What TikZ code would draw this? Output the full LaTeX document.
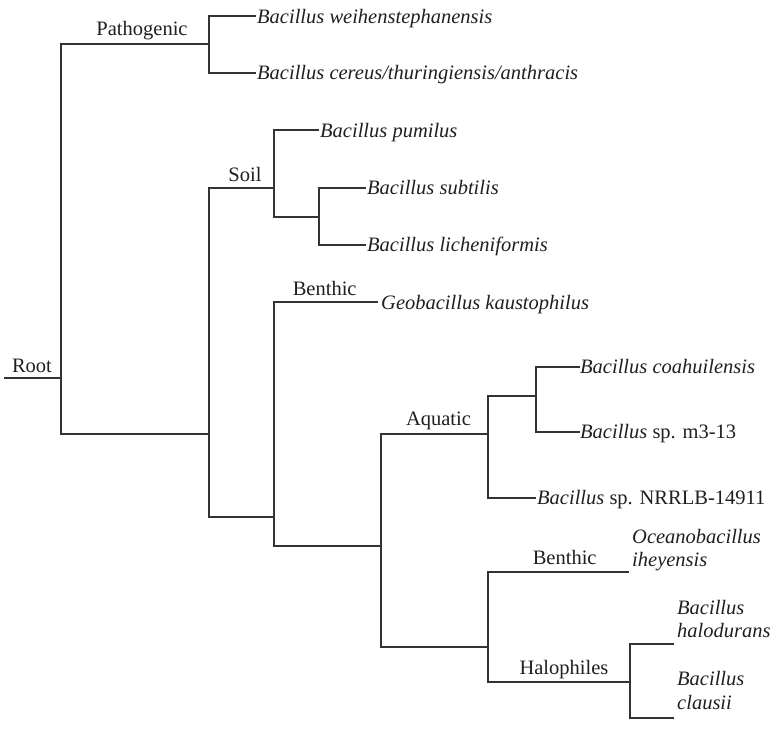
\documentclass[tikz,border=0pt]{standalone}
\usepackage{fontspec}
\setmainfont{Liberation Serif}
\begin{document}
\begin{tikzpicture}[x=1pt,y=-1pt,
  branch/.style={draw=black!80, line width=1.4pt, line cap=rect},
  leaf/.style={anchor=base west, inner sep=0pt, font=\fontsize{20.5}{23.3}\selectfont\itshape, text=black!88, align=left},
  clade/.style={anchor=base, inner sep=0pt, font=\fontsize{20.5}{23.3}\selectfont, text=black!88}]
\useasboundingbox (0,0) rectangle (772,735);
% internal nodes
\coordinate (r0) at (5,378);
\coordinate (nR) at (61,378);
\coordinate (nP) at (209,44);
\coordinate (nA) at (209,434);
\coordinate (nSoil) at (274,188);
\coordinate (nSub) at (319,217);
\coordinate (nB) at (274,517);
\coordinate (nC) at (381,546);
\coordinate (nAq) at (488,434);
\coordinate (nCo) at (536,396);
\coordinate (nD) at (488,647);
\coordinate (nH) at (630,682);
% leaf ends
\coordinate (e1) at (255,16);
\coordinate (e2) at (255,73);
\coordinate (e3) at (318,130);
\coordinate (e4) at (365,188);
\coordinate (e5) at (365,245);
\coordinate (e6) at (377,302);
\coordinate (e7) at (579,367);
\coordinate (e8) at (579,432);
\coordinate (e9) at (535,498);
\coordinate (e10) at (628,572);
\coordinate (e11) at (673,644);
\coordinate (e12) at (673,718);
% leaves
\node[leaf] (l1) at (257,23.3) {Bacillus weihenstephanensis};
\node[leaf] (l2) at (257,79.3) {Bacillus cereus/thuringiensis/anthracis};
\node[leaf] (l3) at (320,137.7) {Bacillus pumilus};
\node[leaf] (l4) at (367,195) {Bacillus subtilis};
\node[leaf] (l5) at (367,252) {Bacillus licheniformis};
\node[leaf] (l6) at (381,309.3) {Geobacillus kaustophilus};
\node[leaf] (l7) at (580,373.3) {Bacillus coahuilensis};
\node[leaf] (l8) at (580,438.3) {Bacillus \upshape sp. m3-13};
\node[leaf] (l9) at (537,505) {Bacillus \upshape sp. NRRLB-14911};
\node[leaf] (l10) at (632,566.7) {Oceanobacillus\\iheyensis};
\node[leaf] (l11) at (677,637.3) {Bacillus\\halodurans};
\node[leaf] (l12) at (677,709) {Bacillus\\clausii};
% clade labels
\node[clade] (tRoot) at (32,372.7) {Root};
\node[clade] (tPat) at (142,36) {Pathogenic};
\node[clade] (tSoil) at (245,181.7) {Soil};
\node[clade] (tBen) at (324.7,295.7) {Benthic};
\node[clade] (tAq) at (438.5,425.7) {Aquatic};
\node[clade] (tBen2) at (564.7,564) {Benthic};
\node[clade] (tHal) at (564,674) {Halophiles};
% branches
\draw[branch] (r0) -- (nR);
\draw[branch] (nR) |- (nP);
\draw[branch] (nR) |- (nA);
\draw[branch] (nP) |- (e1);
\draw[branch] (nP) |- (e2);
\draw[branch] (nA) |- (nSoil);
\draw[branch] (nA) |- (nB);
\draw[branch] (nSoil) |- (e3);
\draw[branch] (nSoil) |- (nSub);
\draw[branch] (nSub) |- (e4);
\draw[branch] (nSub) |- (e5);
\draw[branch] (nB) |- (e6);
\draw[branch] (nB) |- (nC);
\draw[branch] (nC) |- (nAq);
\draw[branch] (nC) |- (nD);
\draw[branch] (nAq) |- (nCo);
\draw[branch] (nAq) |- (e9);
\draw[branch] (nCo) |- (e7);
\draw[branch] (nCo) |- (e8);
\draw[branch] (nD) |- (e10);
\draw[branch] (nD) |- (nH);
\draw[branch] (nH) |- (e11);
\draw[branch] (nH) |- (e12);
\end{tikzpicture}
\end{document}
